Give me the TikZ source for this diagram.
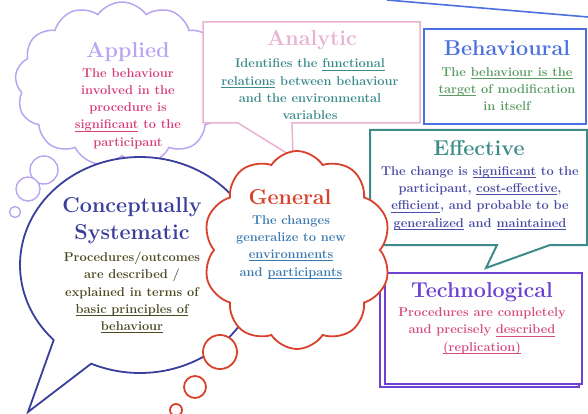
\documentclass[tikz,border=0pt]{standalone}
\usetikzlibrary{shapes.symbols,calc}
\newcommand\myul[1]{\leavevmode\setbox0\hbox{#1}\rlap{\rule[-2.6pt]{\wd0}{0.9pt}}\box0\relax}
\definecolor{applC}{HTML}{B9A5F0}
\definecolor{applT}{HTML}{D63F7A}
\definecolor{analC}{HTML}{EAB2D2}
\definecolor{analT}{HTML}{3C8A8C}
\definecolor{behC}{HTML}{4C70E0}
\definecolor{behT}{HTML}{5C9C62}
\definecolor{effC}{HTML}{3E8C8A}
\definecolor{effT}{HTML}{4A4CA4}
\definecolor{tecC}{HTML}{6C42D2}
\definecolor{tecT}{HTML}{D64C82}
\definecolor{conC}{HTML}{3A3E9C}
\definecolor{conT}{HTML}{4C4A22}
\definecolor{genC}{HTML}{D8422C}
\definecolor{genT}{HTML}{3C7AB0}
\tikzset{
  ttl/.style={font=\bfseries\fontsize{21.5}{27}\selectfont, inner sep=0pt, align=center},
  bdy/.style={font=\bfseries\fontsize{12.8}{17.3}\selectfont, inner sep=0pt, align=center},
  puff/.style={draw, fill=white, circle, inner sep=0pt},
}
\begin{document}
\begin{tikzpicture}[x=1pt,y=-1pt]
\useasboundingbox (0,0) rectangle (588,414);
% top blue line
\coordinate (la) at (387,0);
\coordinate (lb) at (588,17);
\draw[behC, line width=1.6pt] (la) -- (lb);
% Applied cloud
\node[puff, draw=applC, line width=1.4pt, minimum size=28pt] (ap1) at (44,170) {};
\node[puff, draw=applC, line width=1.4pt, minimum size=24pt] (ap2) at (28,189) {};
\node[puff, draw=applC, line width=1.4pt, minimum size=11pt] (ap3) at (15,212) {};
\node[cloud, cloud puffs=13, cloud puff arc=110, cloud ignores aspect, minimum width=214pt, minimum height=164pt, draw=applC, line width=1.5pt, fill=white] (applied) at (122,84) {};
% Conceptually systematic speech bubble
\coordinate (ctip) at (28,412);
\draw[conC, line width=1.8pt, fill=white] (ctip) -- ($(140,265)+(136:120 and 108)$) coordinate (cb1)
  arc[start angle=136, end angle=474, x radius=120, y radius=108] coordinate (cb2) -- cycle;
% Analytic box
\draw[analC, line width=1.5pt, fill=white] (203,22) -- (420,22) -- (420,123) -- (292,123) -- (293,157) -- (238,123) -- (203,123) -- cycle;
\node[inner sep=0pt] (analytic) at (311,72) {};
% Behavioural box
\draw[behC, line width=2.3pt, fill=white] (424,29) rectangle (586,124);
\node[inner sep=0pt] (behavioural) at (505,76) {};
% Effective box
\draw[effC, line width=2pt, fill=white] (370,130) -- (587,130) -- (587,245) -- (550,245) -- (486,268) -- (497,245) -- (370,245) -- cycle;
\node[inner sep=0pt] (effective) at (478,187) {};
% Technological box
\draw[tecC, line width=2.3pt, fill=white] (380,277) rectangle (579,387);
\draw[tecC, line width=2.3pt, fill=white] (385,273) rectangle (582,384);
\node[inner sep=0pt] (technological) at (482,328) {};
% General cloud
\node[puff, draw=genC, line width=1.8pt, minimum size=34pt] (gp1) at (220,352) {};
\node[puff, draw=genC, line width=1.8pt, minimum size=22pt] (gp2) at (195,387) {};
\node[puff, draw=genC, line width=1.8pt, minimum size=12pt] (gp3) at (176,410) {};
\node[cloud, cloud puffs=10, cloud puff arc=115, cloud ignores aspect, minimum width=188pt, minimum height=198pt, draw=genC, line width=1.8pt, fill=white] (general) at (297,250) {};
% Texts
\node[ttl, applC] (tA) at (128,52) {Applied};
\node[bdy, applT] (bA) at (128,108.5) {The behaviour\\involved in the\\procedure is\\\myul{significant} to the\\participant};
\node[ttl, analC] (tN) at (312,40) {Analytic};
\node[bdy, analT] (bN) at (310,89.5) {Identifies the \myul{functional}\\\myul{relations} between behaviour\\and the environmental\\variables};
\node[ttl, behC] (tB) at (507,48) {Behavioural};
\node[bdy, behT] (bB) at (507,89) {The \myul{behaviour is the}\\\myul{target} of modification\\in itself};
\node[ttl, effC] (tE) at (479,148) {Effective};
\node[bdy, effT] (bE) at (480,198) {The change is \myul{significant} to the\\participant, \myul{cost-effective},\\\myul{efficient}, and probable to be\\\myul{generalized} and \myul{maintained}};
\node[ttl, tecC] (tT) at (482,292) {Technological};
\node[bdy, tecT] (bT) at (482,331) {Procedures are completely\\and precisely \myul{described}\\\myul{(replication)}};
\node[ttl, conC] (tC) at (132,221) {Conceptually\\Systematic};
\node[bdy, conT] (bC) at (132,292.5) {Procedures/outcomes\\are described /\\explained in terms of\\\myul{basic principles of}\\\myul{behaviour}};
\node[ttl, genC] (tG) at (290,197) {General};
\node[bdy, genT] (bG) at (291,247) {The changes\\generalize to new\\\myul{environments}\\and \myul{participants}};
\end{tikzpicture}
\end{document}
